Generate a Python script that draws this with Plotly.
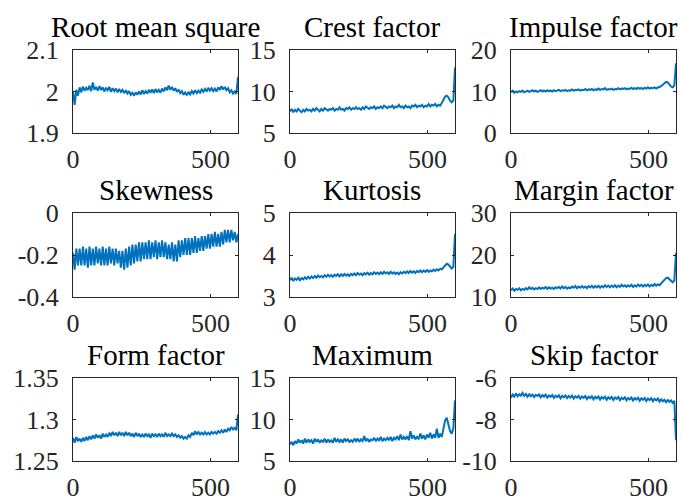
import plotly.graph_objects as go

# ---------------- data ----------------
SAMPLE_STEP = 6  # x spacing of the read-off samples (0 ... 600)

TITLES = ["Root mean square", "Crest factor", "Impulse factor",
          "Skewness", "Kurtosis", "Margin factor",
          "Form factor", "Maximum", "Skip factor"]

rms = [2.000, 1.968, 2.004, 1.990, 2.010, 1.998, 2.012, 2.002, 2.009, 2.003,
       2.014, 2.001, 2.022, 2.004, 2.011, 2.002, 2.013, 2.004, 2.010, 2.000,
       2.009, 2.003, 2.011, 1.999, 2.008, 2.001, 2.007, 1.998, 2.006, 1.999,
       2.004, 1.996, 2.003, 1.995, 2.001, 1.992, 1.997, 1.990, 1.998, 1.992,
       2.000, 1.993, 2.003, 1.994, 2.001, 1.995, 2.004, 1.997, 2.005, 1.996,
       2.006, 1.998, 2.004, 1.997, 2.007, 2.000, 2.010, 2.003, 2.014, 2.004,
       2.011, 2.002, 2.008, 1.999, 2.005, 1.996, 2.001, 1.992, 1.998, 1.991,
       1.999, 1.993, 2.001, 1.995, 2.003, 1.996, 2.002, 1.997, 2.005, 1.999,
       2.006, 2.000, 2.009, 2.002, 2.008, 2.001, 2.007, 2.000, 2.010, 2.004,
       2.013, 2.005, 2.011, 2.003, 2.008, 1.998, 2.003, 1.995, 2.000, 1.994,
       2.035]

crest = [7.6, 7.9, 7.5, 7.8, 7.6, 7.9, 7.7, 7.5, 7.8, 7.6,
         7.9, 7.7, 7.8, 7.6, 7.9, 7.7, 8.0, 7.8, 7.6, 7.9,
         7.7, 8.0, 7.8, 7.7, 7.9, 7.8, 8.0, 7.7, 7.9, 7.8,
         8.1, 7.8, 7.9, 7.7, 8.0, 7.9, 8.1, 7.8, 8.0, 7.9,
         8.1, 7.9, 8.0, 7.8, 8.1, 7.9, 8.2, 8.0, 7.9, 8.1,
         8.0, 8.2, 7.9, 8.1, 8.0, 8.2, 8.0, 8.3, 8.1, 8.0,
         8.2, 8.1, 8.3, 8.0, 8.2, 8.1, 8.4, 8.1, 8.2, 8.0,
         8.3, 8.1, 8.2, 8.0, 8.3, 8.2, 8.4, 8.1, 8.3, 8.2,
         8.4, 8.1, 8.3, 8.2, 8.5, 8.2, 8.4, 8.3, 8.5, 8.2,
         8.4, 8.3, 8.6, 9.0, 9.4, 9.5, 9.3, 8.9, 8.7, 8.9,
         12.9]

impulse = [9.9, 10.2, 9.7, 10.0, 9.8, 10.1, 9.9, 10.2, 9.8, 10.0,
           10.2, 9.9, 10.1, 10.3, 10.0, 10.2, 9.9, 10.1, 10.3, 10.0,
           10.2, 10.0, 10.3, 10.1, 10.2, 10.0, 10.3, 10.1, 10.2, 10.4,
           10.1, 10.3, 10.2, 10.4, 10.1, 10.3, 10.2, 10.5, 10.2, 10.4,
           10.3, 10.5, 10.2, 10.4, 10.3, 10.6, 10.3, 10.5, 10.4, 10.6,
           10.3, 10.5, 10.4, 10.7, 10.4, 10.6, 10.5, 10.8, 10.4, 10.6,
           10.5, 10.7, 10.4, 10.6, 10.5, 10.8, 10.5, 10.7, 10.6, 10.8,
           10.5, 10.7, 10.6, 10.9, 10.6, 10.8, 10.6, 10.9, 10.7, 10.8,
           10.6, 10.9, 10.7, 11.0, 10.7, 10.9, 10.8, 11.0, 10.7, 11.0,
           11.0, 11.2, 11.6, 12.0, 12.3, 12.2, 11.7, 11.2, 11.0, 11.5,
           16.8]

skewness = [-0.19, -0.27, -0.17, -0.25, -0.17, -0.25, -0.16, -0.25, -0.17, -0.26,
            -0.16, -0.25, -0.17, -0.25, -0.16, -0.24, -0.17, -0.25, -0.16, -0.25,
            -0.17, -0.25, -0.16, -0.24, -0.17, -0.25, -0.17, -0.24, -0.18, -0.26,
            -0.18, -0.27, -0.17, -0.26, -0.16, -0.25, -0.15, -0.24, -0.15, -0.23,
            -0.14, -0.23, -0.14, -0.22, -0.14, -0.22, -0.13, -0.22, -0.14, -0.21,
            -0.13, -0.22, -0.14, -0.21, -0.13, -0.21, -0.14, -0.22, -0.15, -0.22,
            -0.14, -0.23, -0.15, -0.23, -0.13, -0.21, -0.13, -0.20, -0.12, -0.20,
            -0.12, -0.20, -0.12, -0.19, -0.11, -0.19, -0.12, -0.18, -0.11, -0.18,
            -0.11, -0.17, -0.10, -0.17, -0.10, -0.16, -0.09, -0.16, -0.10, -0.16,
            -0.09, -0.15, -0.08, -0.14, -0.08, -0.14, -0.08, -0.13, -0.09, -0.14,
            -0.10]

kurtosis = [3.40, 3.46, 3.38, 3.44, 3.41, 3.46, 3.40, 3.45, 3.42, 3.47,
            3.43, 3.48, 3.44, 3.49, 3.45, 3.50, 3.46, 3.51, 3.47, 3.50,
            3.47, 3.52, 3.48, 3.53, 3.49, 3.52, 3.48, 3.53, 3.50, 3.54,
            3.49, 3.54, 3.50, 3.55, 3.51, 3.54, 3.50, 3.55, 3.52, 3.56,
            3.52, 3.57, 3.53, 3.56, 3.52, 3.57, 3.54, 3.58, 3.53, 3.57,
            3.54, 3.59, 3.55, 3.58, 3.54, 3.59, 3.55, 3.60, 3.56, 3.59,
            3.55, 3.60, 3.56, 3.59, 3.55, 3.58, 3.54, 3.59, 3.56, 3.60,
            3.57, 3.61, 3.57, 3.62, 3.58, 3.61, 3.57, 3.62, 3.59, 3.63,
            3.59, 3.63, 3.60, 3.64, 3.60, 3.63, 3.61, 3.65, 3.62, 3.66,
            3.63, 3.67, 3.66, 3.71, 3.76, 3.79, 3.77, 3.72, 3.68, 3.72,
            4.50]

margin = [11.6, 12.0, 11.5, 11.9, 11.7, 12.1, 11.6, 11.9, 11.7, 12.1,
          11.8, 12.3, 11.9, 12.2, 11.8, 12.1, 11.9, 12.3, 11.9, 12.2,
          12.0, 12.4, 11.9, 12.3, 12.0, 12.2, 11.9, 12.3, 12.1, 12.4,
          12.0, 12.5, 12.1, 12.4, 12.0, 12.3, 12.1, 12.5, 12.2, 12.6,
          12.1, 12.5, 12.2, 12.6, 12.2, 12.5, 12.1, 12.6, 12.3, 12.7,
          12.2, 12.6, 12.3, 12.7, 12.2, 12.6, 12.3, 12.8, 12.4, 12.7,
          12.3, 12.7, 12.4, 12.8, 12.3, 12.7, 12.4, 12.9, 12.5, 12.8,
          12.4, 12.8, 12.5, 12.9, 12.4, 12.8, 12.5, 13.0, 12.6, 12.9,
          12.5, 12.9, 12.6, 13.0, 12.5, 12.9, 12.6, 13.1, 12.7, 13.0,
          12.8, 13.2, 13.6, 14.1, 14.5, 14.6, 14.2, 13.7, 13.5, 13.9,
          20.5]

form = [1.278, 1.272, 1.279, 1.274, 1.277, 1.273, 1.278, 1.274, 1.279, 1.275,
        1.280, 1.276, 1.281, 1.277, 1.282, 1.278, 1.281, 1.277, 1.283, 1.279,
        1.282, 1.279, 1.284, 1.280, 1.285, 1.281, 1.284, 1.280, 1.285, 1.281,
        1.284, 1.280, 1.285, 1.281, 1.284, 1.280, 1.283, 1.279, 1.284, 1.280,
        1.283, 1.279, 1.282, 1.279, 1.283, 1.280, 1.282, 1.278, 1.283, 1.280,
        1.282, 1.279, 1.283, 1.280, 1.282, 1.279, 1.284, 1.280, 1.282, 1.280,
        1.283, 1.280, 1.282, 1.279, 1.281, 1.278, 1.280, 1.277, 1.279, 1.277,
        1.281, 1.279, 1.284, 1.281, 1.286, 1.282, 1.285, 1.282, 1.284, 1.282,
        1.285, 1.282, 1.284, 1.282, 1.285, 1.283, 1.285, 1.283, 1.286, 1.284,
        1.287, 1.284, 1.288, 1.285, 1.289, 1.287, 1.291, 1.288, 1.290, 1.287,
        1.306]

maximum = [7.0, 7.3, 6.9, 7.4, 7.1, 7.6, 7.2, 7.5, 7.1, 7.7,
           7.2, 7.6, 7.3, 7.5, 7.1, 7.7, 7.3, 7.6, 7.2, 7.5,
           7.3, 7.7, 7.2, 7.6, 7.3, 7.5, 7.2, 7.8, 7.3, 7.6,
           7.3, 7.6, 7.2, 7.7, 7.4, 7.6, 7.3, 7.5, 7.3, 7.7,
           7.4, 7.7, 7.3, 7.6, 7.4, 8.0, 7.4, 7.7, 7.3, 7.6,
           7.5, 7.8, 7.4, 7.7, 7.5, 7.9, 7.4, 7.7, 7.5, 7.8,
           7.5, 7.9, 7.4, 7.8, 7.6, 8.0, 7.5, 8.2, 7.6, 7.9,
           7.6, 8.0, 7.5, 8.6, 7.7, 8.1, 7.6, 7.9, 7.7, 8.3,
           7.7, 8.1, 7.6, 8.2, 7.8, 8.4, 7.7, 8.2, 7.8, 8.9,
           7.8, 8.3, 7.9, 9.0, 9.9, 10.2, 9.4, 8.6, 8.3, 8.9,
           12.3]

skip = [-6.95, -6.80, -6.90, -6.75, -6.88, -6.78, -6.85, -6.72, -6.86, -6.77,
        -6.90, -6.79, -6.88, -6.80, -6.92, -6.81, -6.87, -6.79, -6.93, -6.82,
        -6.90, -6.80, -6.95, -6.84, -6.91, -6.82, -6.96, -6.85, -6.92, -6.83,
        -6.98, -6.86, -6.93, -6.84, -6.97, -6.87, -6.94, -6.85, -6.99, -6.88,
        -6.95, -6.86, -7.00, -6.89, -6.96, -6.87, -7.02, -6.90, -6.97, -6.88,
        -7.03, -6.91, -6.98, -6.89, -7.04, -6.92, -6.99, -6.90, -7.05, -6.93,
        -7.00, -6.91, -7.06, -6.94, -7.01, -6.92, -7.07, -6.95, -7.02, -6.93,
        -7.08, -6.96, -7.03, -6.94, -7.09, -6.97, -7.04, -6.95, -7.10, -6.98,
        -7.05, -6.96, -7.11, -6.99, -7.06, -6.97, -7.12, -7.00, -7.08, -6.99,
        -7.14, -7.03, -7.12, -7.05, -7.17, -7.06, -7.15, -7.08, -7.20, -7.10,
        -9.00]

SERIES = [rms, crest, impulse, skewness, kurtosis, margin, form, maximum, skip]

X_RANGE = [0, 600]
X_TICKS = [0, 500]
Y_RANGES = [[1.9, 2.1], [5, 15], [0, 20],
            [-0.4, 0], [3, 5], [10, 30],
            [1.25, 1.35], [5, 15], [-10, -6]]
Y_TICKS = [[1.9, 2, 2.1], [5, 10, 15], [0, 10, 20],
           [-0.4, -0.2, 0], [3, 4, 5], [10, 20, 30],
           [1.25, 1.3, 1.35], [5, 10, 15], [-10, -8, -6]]
Y_TICKTEXT = [["1.9", "2", "2.1"], ["5", "10", "15"], ["0", "10", "20"],
              ["-0.4", "-0.2", "0"], ["3", "4", "5"], ["10", "20", "30"],
              ["1.25", "1.3", "1.35"], ["5", "10", "15"], ["-10", "-8", "-6"]]

# ---------------- layout geometry ----------------
W, H = 681, 498
COL_PX = [(73, 238), (290, 455), (511, 676)]
ROW_PX = [(50, 133), (213, 297), (378, 461)]
XD = [[a / W, b / W] for a, b in COL_PX]
YD = [[1 - b / H, 1 - a / H] for a, b in ROW_PX]

FONT = "Liberation Serif, Times New Roman, serif"
AXC = "#262626"
LINEC = "#0072BD"

fig = go.Figure()
layout = dict(
    template="none",
    width=W, height=H, margin=dict(l=0, r=0, t=0, b=0, autoexpand=False),
    paper_bgcolor="white", plot_bgcolor="white", showlegend=False,
    font=dict(family=FONT, size=26, color=AXC),
)
annotations = []

for i, vals in enumerate(SERIES):
    assert len(vals) == 101, (TITLES[i], len(vals))
    r, c = divmod(i, 3)
    sfx = "" if i == 0 else str(i + 1)
    xs = [k * SAMPLE_STEP for k in range(len(vals))]
    fig.add_trace(go.Scatter(x=xs, y=vals, mode="lines",
                             line=dict(color=LINEC, width=2),
                             xaxis="x" + sfx, yaxis="y" + sfx,
                             hoverinfo="skip"))
    common = dict(showline=True, linecolor=AXC, linewidth=1, mirror="ticks",
                  ticks="inside", ticklen=3, tickwidth=1, tickcolor=AXC,
                  showgrid=False, zeroline=False, automargin=False,
                  tickfont=dict(family=FONT, size=26, color=AXC))
    layout["xaxis" + sfx] = dict(domain=XD[c], anchor="y" + sfx,
                                 range=X_RANGE, tickvals=X_TICKS,
                                 ticktext=[str(v) for v in X_TICKS],
                                 ticklabelstandoff=3, **common)
    layout["yaxis" + sfx] = dict(domain=YD[r], anchor="x" + sfx,
                                 range=Y_RANGES[i], tickvals=Y_TICKS[i],
                                 ticktext=Y_TICKTEXT[i],
                                 ticklabelstandoff=8, **common)
    annotations.append(dict(
        text=TITLES[i], xref="paper", yref="paper",
        x=(XD[c][0] + XD[c][1]) / 2, y=YD[r][1],
        xanchor="center", yanchor="bottom", showarrow=False, yshift=5,
        font=dict(family=FONT, size=29, color="black")))

layout["annotations"] = annotations
fig.update_layout(**layout)
fig.write_html("out.html",
               config={"displayModeBar": False, "staticPlot": True},
               post_script="document.body.style.margin='0';"
                           "document.body.style.overflow='hidden';")
